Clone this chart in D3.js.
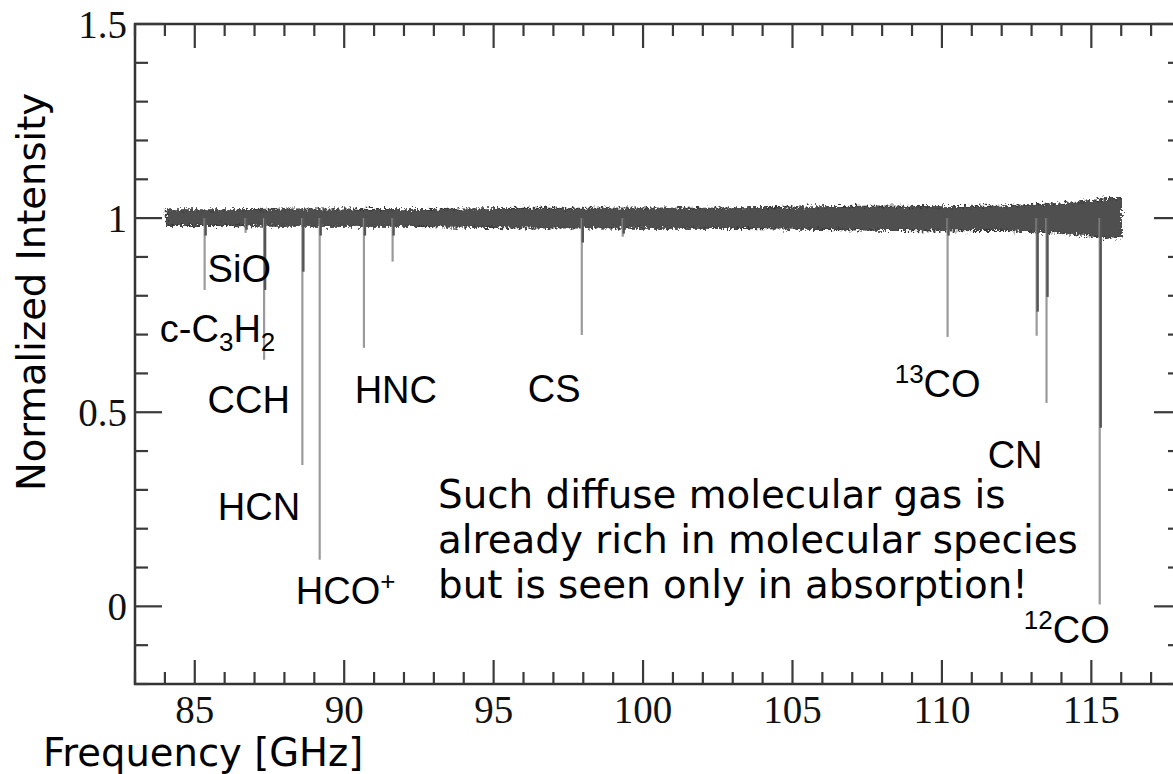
<!doctype html>
<meta charset="utf8">
<style>
  html, body { margin: 0; padding: 0; background: #fff; }
  svg { display: block; }
  .tick-label { font-family: "Liberation Serif", "Times New Roman", serif; font-size: 39px; fill: #111; }
  .title { font-family: "DejaVu Sans", Verdana, sans-serif; fill: #000; }
  .mol { font-family: "Liberation Sans", Arial, sans-serif; font-size: 38px; fill: #000; }
</style>
<body>
<div id="chart"></div>
<script src="https://d3js.org/d3.v7.min.js"></script>
<script>
(function() {

const WIDTH = 1173;
const HEIGHT = 774;

// noise envelope of the spectrum
const BAND_FREQ  = [84.05, 86, 88, 90, 92, 94, 96, 98, 100, 102, 104, 106, 108, 110, 112, 113, 114, 115, 115.5, 116.0];
const BAND_UPPER = [1.021, 1.021, 1.023, 1.023, 1.021, 1.023, 1.025, 1.025, 1.026, 1.025, 1.027, 1.029, 1.031, 1.029, 1.031, 1.035, 1.037, 1.045, 1.050, 1.050];
const BAND_LOWER = [0.981, 0.981, 0.979, 0.979, 0.979, 0.977, 0.975, 0.975, 0.974, 0.974, 0.973, 0.971, 0.969, 0.967, 0.969, 0.965, 0.961, 0.954, 0.949, 0.949];

// absorption lines: frequency, deepest point (thin grey trace), depth of dark trace
const LINE_FREQ = [85.33, 86.70, 87.32, 88.60, 89.18, 90.66, 91.62, 97.95, 99.32, 110.19, 113.17, 113.50, 115.28];
const LINE_MIN  = [0.815, 0.962, 0.635, 0.364, 0.120, 0.666, 0.888, 0.699, 0.952, 0.694, 0.697, 0.524, 0.005];
const LINE_CORE = [0.955, 0.970, 0.815, 0.862, 0.955, 0.955, 0.955, 0.937, 0.960, 0.955, 0.759, 0.797, 0.460];

const FREQ_TICKS = [85, 90, 95, 100, 105, 110, 115];
const INTENSITY_TICKS = [0, 0.5, 1, 1.5];

// species labels: [text, sub/sup], placed at (freq, intensity)
const SPECIES = [
  {parts: [["SiO"]], f: 85.43, v: 0.836},
  {parts: [["c-C"], ["3", "sub"], ["H"], ["2", "sub"]], f: 83.83, v: 0.681},
  {parts: [["CCH"]], f: 85.43, v: 0.498},
  {parts: [["HNC"]], f: 90.35, v: 0.524},
  {parts: [["HCN"]], f: 85.77, v: 0.222},
  {parts: [["HCO"], ["+", "sup"]], f: 88.38, v: 0.006},
  {parts: [["CS"]], f: 96.14, v: 0.526},
  {parts: [["13", "sup"], ["CO"]], f: 108.42, v: 0.539},
  {parts: [["CN"]], f: 111.53, v: 0.356},
  {parts: [["12", "sup"], ["CO"]], f: 112.74, v: -0.094},
];

const NOTE = [
  "Such diffuse molecular gas is",
  "already rich in molecular species",
  "but is seen only in absorption!",
];

const x = d3.scaleLinear().domain([83, 118]).range([135, 1181]);
const y = d3.scaleLinear().domain([-0.2, 1.5]).range([684, 24]);

const svg = d3.select("#chart").append("svg")
  .attr("width", WIDTH)
  .attr("height", HEIGHT);

// rough edge for the noisy band
const filter = svg.append("defs").append("filter")
  .attr("id", "rough")
  .attr("x", "-2%").attr("y", "-100%")
  .attr("width", "104%").attr("height", "300%");
filter.append("feTurbulence")
  .attr("type", "fractalNoise")
  .attr("baseFrequency", "0.45 0.35")
  .attr("numOctaves", 2)
  .attr("seed", 3)
  .attr("result", "noise");
filter.append("feDisplacementMap")
  .attr("in", "SourceGraphic")
  .attr("in2", "noise")
  .attr("scale", 9)
  .attr("xChannelSelector", "R")
  .attr("yChannelSelector", "G");

// spectrum band
const band = BAND_FREQ.map((f, i) => ({f, hi: BAND_UPPER[i], lo: BAND_LOWER[i]}));
svg.append("path")
  .datum(band)
  .attr("fill", "#505050")
  .attr("stroke", "#383838")
  .attr("stroke-width", 1.2)
  .attr("filter", "url(#rough)")
  .attr("d", d3.area().x(d => x(d.f)).y0(d => y(d.lo)).y1(d => y(d.hi)));

// absorption lines
const lines = LINE_FREQ.map((f, i) => ({f, min: LINE_MIN[i], core: LINE_CORE[i]}));
svg.selectAll(".thin").data(lines).enter()
  .append("line")
    .attr("class", "thin")
    .attr("x1", d => x(d.f)).attr("x2", d => x(d.f))
    .attr("y1", y(1)).attr("y2", d => y(d.min))
    .attr("stroke", "#9a9a9a")
    .attr("stroke-width", 2.2);
svg.selectAll(".core").data(lines).enter()
  .append("line")
    .attr("class", "core")
    .attr("x1", d => x(d.f) + 1).attr("x2", d => x(d.f) + 1)
    .attr("y1", y(1)).attr("y2", d => y(d.core))
    .attr("stroke", "#555")
    .attr("stroke-width", 2.4);

// frame
const [x0, x1] = x.range();
const [yb, yt] = y.range();
svg.append("rect")
  .attr("x", x0).attr("y", yt)
  .attr("width", x1 - x0).attr("height", yb - yt)
  .attr("fill", "none")
  .attr("stroke", "#333")
  .attr("stroke-width", 2.5);

const MAJOR = 24, MINOR = 12;
const xMinor = d3.range(83, 118.01, 1);
const yMinor = d3.range(-0.2, 1.501, 0.1);
const isMajorX = f => FREQ_TICKS.some(t => Math.abs(t - f) < 1e-6);
const isMajorY = v => INTENSITY_TICKS.some(t => Math.abs(t - v) < 1e-6);

const ticks = svg.append("g").attr("stroke", "#3a3a3a").attr("stroke-width", 2.2);
xMinor.forEach(f => {
  const len = isMajorX(f) ? MAJOR : MINOR;
  ticks.append("line").attr("x1", x(f)).attr("x2", x(f)).attr("y1", yb).attr("y2", yb - len);
  ticks.append("line").attr("x1", x(f)).attr("x2", x(f)).attr("y1", yt).attr("y2", yt + len);
});
yMinor.forEach(v => {
  const len = isMajorY(v) ? MAJOR + 3 : MINOR + 1;
  ticks.append("line").attr("x1", x0).attr("x2", x0 + len).attr("y1", y(v)).attr("y2", y(v));
  ticks.append("line").attr("x1", x1).attr("x2", x1 - len).attr("y1", y(v)).attr("y2", y(v));
});

// tick labels
svg.selectAll(".xl").data(FREQ_TICKS).enter()
  .append("text")
    .attr("class", "tick-label")
    .attr("x", d => x(d)).attr("y", 723)
    .attr("text-anchor", "middle")
    .text(d => d);
svg.selectAll(".yl").data(INTENSITY_TICKS).enter()
  .append("text")
    .attr("class", "tick-label")
    .attr("x", 127).attr("y", d => y(d) + 14)
    .attr("text-anchor", "end")
    .text(d => d);

// axis titles
svg.append("text")
  .attr("class", "title")
  .attr("x", 43).attr("y", 766)
  .attr("font-size", 38.5)
  .text("Frequency [GHz]");
svg.append("text")
  .attr("class", "title")
  .attr("transform", "translate(45,292) rotate(-90)")
  .attr("text-anchor", "middle")
  .attr("font-size", 38.5)
  .text("Normalized Intensity");

// species labels
SPECIES.forEach(s => {
  const t = svg.append("text")
    .attr("class", "mol")
    .attr("x", x(s.f)).attr("y", y(s.v));
  let shift = 0;
  s.parts.forEach(([txt, kind]) => {
    const target = kind === "sub" ? 9 : kind === "sup" ? -14 : 0;
    t.append("tspan")
      .attr("dy", target - shift)
      .attr("font-size", kind ? 26 : 38)
      .text(txt);
    shift = target;
  });
});

// note
svg.append("g").selectAll("text").data(NOTE).enter()
  .append("text")
    .attr("class", "title")
    .attr("font-size", 38.8)
    .attr("x", x(93.14))
    .attr("y", (d, i) => 508 + i * 45)
    .text(d => d);

})();
</script>
</body>
